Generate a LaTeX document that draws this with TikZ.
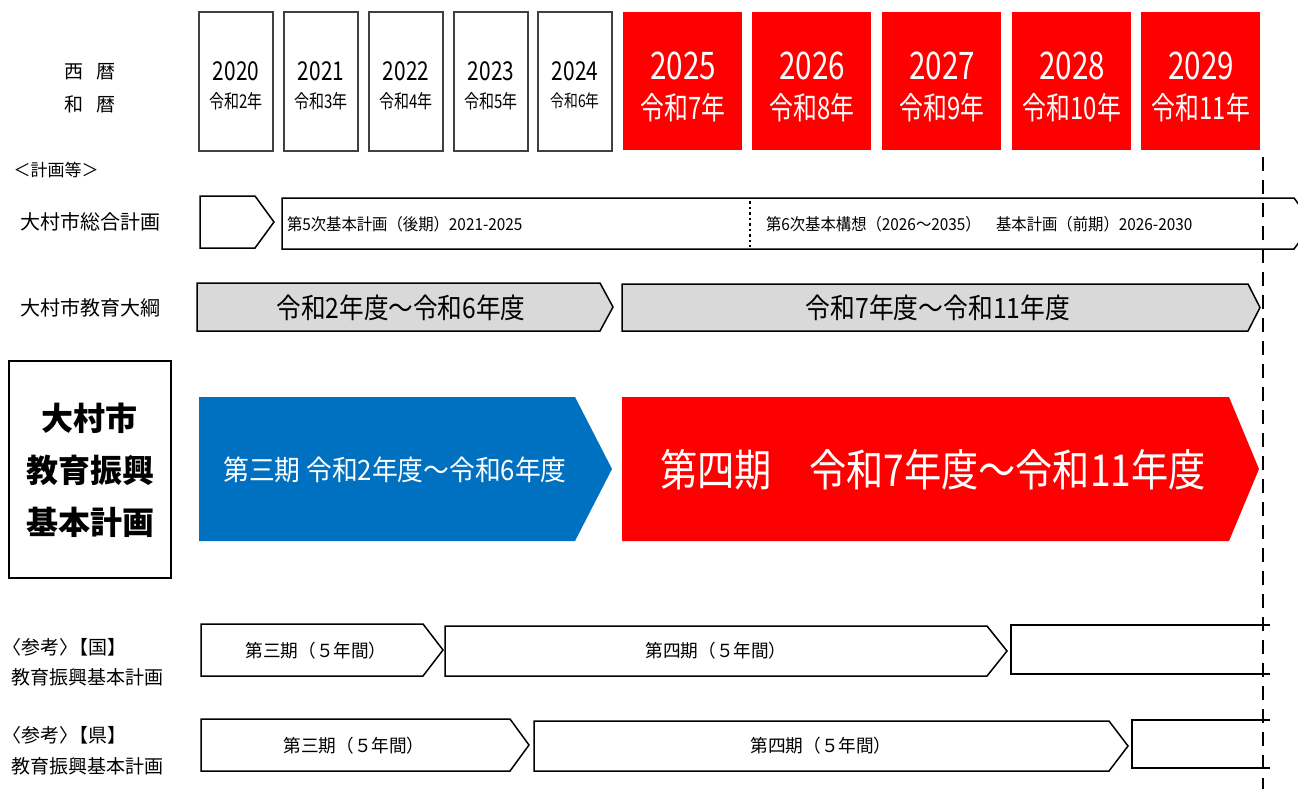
\documentclass[tikz,border=0pt]{standalone}
\usepackage{fontspec}
\usepackage{graphicx}
\setmainfont{Noto Sans CJK JP}
\definecolor{rd}{HTML}{FF0000}
\definecolor{bl}{HTML}{0070C0}
\definecolor{gr}{HTML}{D9D9D9}
\definecolor{bd}{HTML}{404040}
\newcommand\sx[2]{\scalebox{#1}[1]{#2}}
\newcommand\fs[1]{\fontsize{#1pt}{#1pt}\selectfont}
\newcommand\palt{\addfontfeatures{RawFeature=+palt}}
\tikzset{
  ybox/.style={draw=bd, line width=1.3pt, fill=white},
  pent/.style={draw=black, line width=1.5pt, fill=white, line join=miter},
  gpent/.style={pent, fill=gr},
  txt/.style={inner sep=0pt, outer sep=0pt},
  wtxt/.style={txt, text=white},
}
\begin{document}
\begin{tikzpicture}[x=1pt,y=-1pt]
\useasboundingbox (0,0) rectangle (1298,789);
\clip (0,0) rectangle (1298,789);

% header labels
\node[txt, font=\fs{19}] (seireki) at (90,72) {西\hspace{13pt}暦};
\node[txt, font=\fs{19}] (wareki) at (90,104) {和\hspace{13pt}暦};

% year boxes
\foreach \yr/\rw/\x/\rs in {2020/2/199/19, 2021/3/284/19, 2022/4/369/19, 2023/5/454/19, 2024/6/538/17.5}{
  \draw[ybox] (\x,12) rectangle (\x+74,151);
  \node[txt, font=\fs{26}] (y\yr) at (\x+37,71) {\sx{0.8}{\yr}};
  \node[txt, font=\fs{\rs}] (r\yr) at (\x+37,101) {\sx{0.79}{令和\rw 年}};
}
\foreach \yr/\rw/\x in {2025/7/623, 2026/8/752, 2027/9/882, 2028/10/1012, 2029/11/1141}{
  \fill[rd] (\x,12) rectangle (\x+119,150);
  \node[wtxt, font=\fs{38}] (y\yr) at (\x+60,66) {\sx{0.78}{\yr}};
  \node[wtxt, font=\fs{31}] (r\yr) at (\x+60,108) {\sx{0.77}{令和\rw 年}};
}

\node[txt, font=\fs{17}] (keikaku) at (56,170) {＜計画等＞};

% row labels
\node[txt, font=\fs{20}] (sogo) at (90,222) {大村市総合計画};
\node[txt, font=\fs{20}] (taiko) at (90,308) {大村市教育大綱};

% sogo keikaku row
\draw[pent] (200,196) -- (255,196) -- (274,222) -- (255,248) -- (200,248) -- cycle;
\draw[pent] (282,198) -- (1294,198) -- (1313,223.5) -- (1294,249) -- (282,249) -- cycle;
\draw[line width=2pt, dash pattern=on 2.5pt off 3pt] (750,201) -- (750,247);
\node[txt, font=\fs{16.5}, anchor=west] (dai5) at (287,224) {\sx{0.93}{第5次基本計画（後期）2021-2025}};
\node[txt, font=\fs{16.5}, anchor=west] (dai6) at (766,224) {\sx{0.93}{第6次基本構想（2026～2035）　基本計画（前期）2026-2030}};

% taiko row
\draw[gpent] (197,283) -- (600,283) -- (613,307) -- (600,331) -- (197,331) -- cycle;
\draw[gpent] (622,284) -- (1248,284) -- (1260,307.5) -- (1248,331) -- (622,331) -- cycle;
\node[txt, font=\fs{28}] (t1) at (401,308) {\sx{0.88}{令和2年度～令和6年度}};
\node[txt, font=\fs{28}] (t2) at (938,308) {\sx{0.885}{令和7年度～令和11年度}};

% main plan
\draw[line width=1.5pt] (9,361) rectangle (171,578);
\node[txt, font=\fs{32}\bfseries, align=center] (omura) at (90,470) {大村市\\[20pt]教育振興\\[20pt]基本計画};
\fill[bl] (199,397) -- (575,397) -- (612,469) -- (575,541) -- (199,541) -- cycle;
\fill[rd] (622,397) -- (1229,397) -- (1259,469) -- (1229,541) -- (622,541) -- cycle;
\node[wtxt, font=\fs{28}] (p3) at (395,470) {\sx{0.92}{第三期 令和2年度～令和6年度}};
\node[wtxt, font=\fs{44}] (p4) at (933,470) {\sx{0.845}{第四期　令和7年度～令和11年度}};

% national
\node[txt, font=\fs{19}, anchor=west] (kuni1) at (12,647) {{\palt 〈参考〉}【国】};
\node[txt, font=\fs{19}, anchor=west] (kuni2) at (12,677) {教育振興基本計画};
\draw[pent] (201,624) -- (423,624) -- (443,650) -- (423,676) -- (201,676) -- cycle;
\draw[pent] (445,626) -- (987,626) -- (1007,651) -- (987,676) -- (445,676) -- cycle;
\draw[pent] (1270,625) -- (1011,625) -- (1011,674) -- (1270,674);
\node[txt, font=\fs{18}] (k3) at (316,651) {\sx{0.98}{第三期（５年間）}};
\node[txt, font=\fs{18}] (k4) at (716,651) {\sx{0.98}{第四期（５年間）}};

% prefecture
\node[txt, font=\fs{19}, anchor=west] (ken1) at (12,735) {{\palt 〈参考〉}【県】};
\node[txt, font=\fs{19}, anchor=west] (ken2) at (12,766) {教育振興基本計画};
\draw[pent] (201,719) -- (510,719) -- (529,745) -- (510,771) -- (201,771) -- cycle;
\draw[pent] (534,721) -- (1109,721) -- (1128,746) -- (1109,771) -- (534,771) -- cycle;
\draw[pent] (1270,720) -- (1132,720) -- (1132,768) -- (1270,768);
\node[txt, font=\fs{18}] (c3) at (354,746) {\sx{0.98}{第三期（５年間）}};
\node[txt, font=\fs{18}] (c4) at (821,746) {\sx{0.98}{第四期（５年間）}};

% dashed boundary
\coordinate (dtop) at (1263,157);
\coordinate (dbot) at (1263,789);
\draw[line width=2pt, dash pattern=on 14pt off 9pt] (dtop) -- (dbot);
\end{tikzpicture}
\end{document}
